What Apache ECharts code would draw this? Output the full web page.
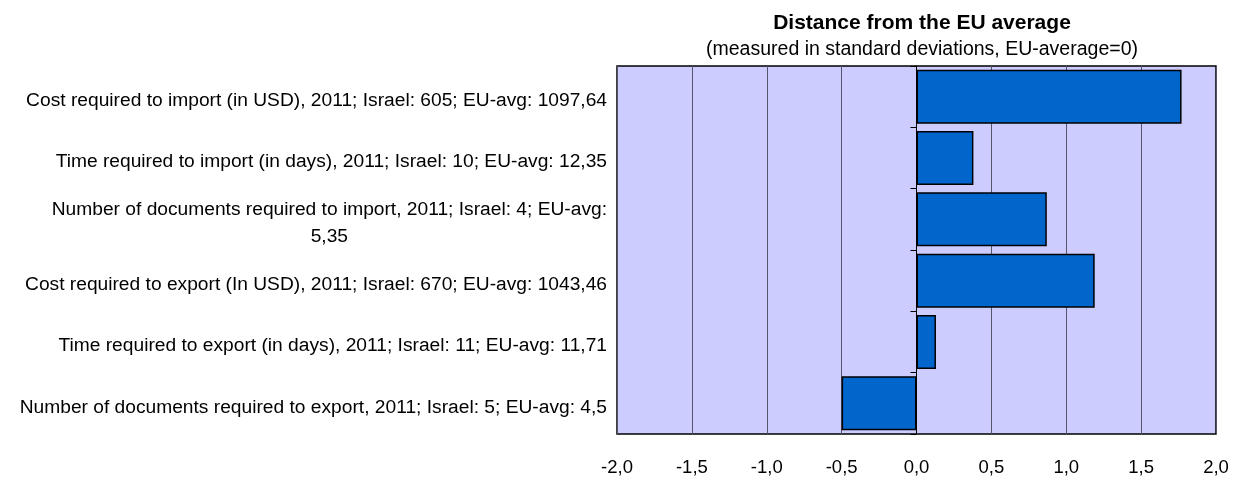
<!DOCTYPE html>
<html>
<head>
<meta charset="utf-8">
<script src="https://cdn.jsdelivr.net/npm/echarts@6/dist/echarts.min.js"></script>
<style>
  html, body { margin: 0; padding: 0; background: #fff; }
  #chart { width: 1242px; height: 479px; }
</style>
</head>
<body>
<div id="chart"></div>
<script>
// 指标名称（从上到下）
const categories = [
  'Cost required to import (in USD), 2011; Israel: 605; EU-avg: 1097,64',
  'Time required to import (in days), 2011; Israel: 10; EU-avg: 12,35',
  'Number of documents required to import, 2011; Israel: 4; EU-avg:\n5,35',
  'Cost required to export (In USD), 2011; Israel: 670; EU-avg: 1043,46',
  'Time required to export (in days), 2011; Israel: 11; EU-avg: 11,71',
  'Number of documents required to export, 2011; Israel: 5; EU-avg: 4,5'
];
// 与欧盟平均值的距离（标准差）
const distances = [1.77, 0.38, 0.87, 1.19, 0.13, -0.50];

const fontFamily = 'Liberation Sans, Arial, sans-serif';
const chart = echarts.init(document.getElementById('chart'), null, { renderer: 'canvas' });

chart.setOption({
  animation: false,
  title: {
    text: 'Distance from the EU average',
    subtext: '(measured in standard deviations, EU-average=0)',
    left: 917,
    textAlign: 'center',
    top: 8,
    itemGap: 6,
    textStyle: { fontFamily, fontSize: 21, fontWeight: 'bold', color: '#000' },
    subtextStyle: { fontFamily, fontSize: 19.5, color: '#000' }
  },
  grid: {
    left: 617,
    right: 26,
    top: 66,
    bottom: 45,
    show: true,
    backgroundColor: '#ccccff',
    borderColor: '#000',
    borderWidth: 1.5
  },
  xAxis: {
    type: 'value',
    min: -2,
    max: 2,
    interval: 0.5,
    axisLine: { show: false },
    axisTick: { show: false },
    splitLine: { show: true, lineStyle: { color: '#55556a', width: 1 } },
    axisLabel: {
      margin: 24,
      fontFamily,
      fontSize: 18.5,
      color: '#000',
      formatter: (v) => v.toFixed(1).replace('.', ',')
    }
  },
  yAxis: [
    {
      type: 'category',
      inverse: true,
      data: categories,
      axisLine: { show: false, onZero: false },
      axisTick: { show: false },
      axisLabel: {
        margin: 10,
        padding: [8, 0, 0, 0],
        fontFamily,
        fontSize: 19.2,
        color: '#000',
        lineHeight: 27,
        formatter: (v) => {
          // 换行的标签第二行居中
          const parts = v.split('\n');
          if (parts.length < 2) return v;
          return parts[0] + '\n{c|' + parts[1] + '}';
        },
        rich: {
          c: { align: 'center', fontFamily, fontSize: 19.2, color: '#000', lineHeight: 27 }
        }
      }
    },
    {
      type: 'category',
      inverse: true,
      data: categories,
      position: 'left',
      axisLine: { show: true, onZero: true, lineStyle: { color: '#000', width: 1 } },
      axisTick: { show: true, length: 6, lineStyle: { color: '#000' } },
      axisLabel: { show: false }
    }
  ],
  series: [
    {
      type: 'bar',
      yAxisIndex: 0,
      data: distances,
      barCategoryGap: '12%',
      itemStyle: { color: '#0066cc', borderColor: '#000', borderWidth: 1.5 }
    }
  ]
});
</script>
</body>
</html>
